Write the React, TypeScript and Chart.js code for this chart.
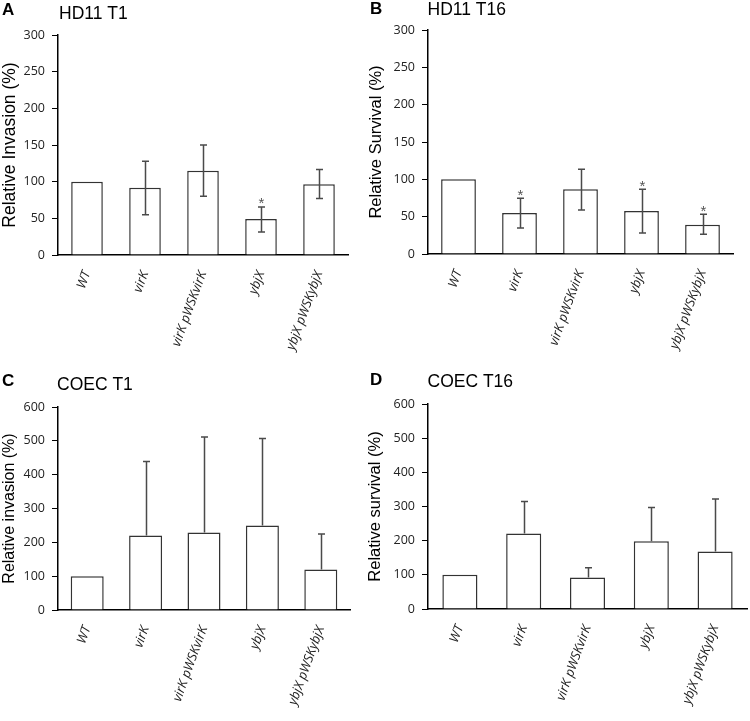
import React, { useEffect, useRef } from "react";
import { Chart, registerables } from "chart.js";

Chart.register(...registerables);

const CATEGORIES = ["WT", "virK", "virK pWSKvirK", "ybjX", "ybjX pWSKybjX"];

// Panel A: HD11 T1
const A_VALUES = [100, 91.7, 115, 49, 96.5];
const A_LOW = [null, 55, 80, 31.5, 77];
const A_HIGH = [null, 128, 150, 65.5, 116.5];
const A_STARS = [false, false, false, true, false];

// Panel B: HD11 T16
const B_VALUES = [100, 55, 86.6, 57.6, 39.3];
const B_LOW = [null, 34.8, 58.9, 28.1, 26.3];
const B_HIGH = [null, 74.6, 113.4, 86.6, 53.1];
const B_STARS = [false, true, false, true, true];

// Panel C: COEC T1
const C_VALUES = [100, 220, 229, 250, 120];
const C_LOW = [null, null, null, null, null];
const C_HIGH = [null, 439, 511, 507, 225];
const C_STARS = [false, false, false, false, false];

// Panel D: COEC T16
const D_VALUES = [100, 221, 92, 198, 168];
const D_LOW = [null, null, null, null, null];
const D_HIGH = [null, 315, 121, 297, 322];
const D_STARS = [false, false, false, false, false];

const Y_TICKS_AB = { max: 300, step: 50 };
const Y_TICKS_CD = { max: 600, step: 100 };

type PanelProps = {
  letter: string;
  title: string;
  yTitle: string;
  values: number[];
  low: (number | null)[];
  high: (number | null)[];
  stars: boolean[];
  max: number;
  step: number;
  x: number;
  y: number;
  w: number;
  h: number;
  area: { left: number; right: number; top: number; bottom: number };
  barPct: number;
  yTitleSize: number;
  yTitlePad: number;
  letterPos: [number, number];
  titlePos: [number, number];
};

function Panel(p: PanelProps) {
  const ref = useRef<HTMLCanvasElement | null>(null);
  useEffect(() => {
    const canvas = ref.current;
    if (!canvas) return;
    const overlay = {
      id: "overlay" + p.letter,
      afterDatasetsDraw(chart: any) {
        const ctx = chart.ctx;
        const meta = chart.getDatasetMeta(0);
        const ys = chart.scales.y;
        ctx.save();
        for (let i = 0; i < p.values.length; i++) {
          const hi = p.high[i];
          if (hi == null) continue;
          const bar = meta.data[i];
          const cx = Math.round(bar.x) + 0.5;
          const lo = p.low[i];
          const yHi = ys.getPixelForValue(hi);
          const yLo = ys.getPixelForValue(lo == null ? p.values[i] : lo);
          ctx.strokeStyle = "#4a4a4a";
          ctx.lineWidth = 1.5;
          ctx.beginPath();
          ctx.moveTo(cx, yLo);
          ctx.lineTo(cx, yHi);
          ctx.moveTo(cx - 3.5, yHi);
          ctx.lineTo(cx + 3.5, yHi);
          if (lo != null) {
            ctx.moveTo(cx - 3.5, yLo);
            ctx.lineTo(cx + 3.5, yLo);
          }
          ctx.stroke();
          if (p.stars[i]) {
            ctx.fillStyle = "#555";
            ctx.font = "15px 'Liberation Sans', Arial, sans-serif";
            ctx.textAlign = "center";
            ctx.textBaseline = "alphabetic";
            ctx.fillText("*", cx, yHi + 1.5);
          }
        }
        ctx.fillStyle = "#000";
        ctx.textAlign = "left";
        ctx.textBaseline = "alphabetic";
        ctx.font = "bold 17px 'Liberation Sans', Arial, sans-serif";
        ctx.fillText(p.letter, p.letterPos[0], p.letterPos[1]);
        ctx.font = "17.5px 'Liberation Sans', Arial, sans-serif";
        ctx.fillText(p.title, p.titlePos[0], p.titlePos[1]);
        ctx.restore();
      },
    };
    const chart = new Chart(canvas, {
      type: "bar",
      data: {
        labels: CATEGORIES,
        datasets: [
          {
            data: p.values,
            backgroundColor: "#ffffff",
            borderColor: "#333333",
            borderWidth: 1.5,
            barPercentage: p.barPct,
            categoryPercentage: 1,
          },
        ],
      },
      options: {
        animation: false,
        responsive: false,
        devicePixelRatio: 1,
        layout: {
          padding: {
            top: p.area.top,
            right: p.w - p.area.right,
            bottom: 0,
            left: 0,
          },
        },
        plugins: {
          legend: { display: false },
          tooltip: { enabled: false },
        },
        scales: {
          x: {
            grid: { display: false },
            border: { display: true, color: "#000", width: 1.5 },
            ticks: {
              autoSkip: false,
              minRotation: 70,
              maxRotation: 70,
              padding: 6,
              color: "#222",
              font: { family: "'Open Sans', sans-serif", size: 13, style: "italic" },
            },
            afterFit: (s: any) => {
              s.height = p.h - p.area.bottom;
            },
          },
          y: {
            min: 0,
            max: p.max,
            ticks: {
              stepSize: p.step,
              padding: 7,
              color: "#222",
              font: { family: "'Open Sans', sans-serif", size: 12.5 },
            },
            grid: {
              display: true,
              drawOnChartArea: false,
              drawTicks: true,
              tickLength: 6,
              color: "#000",
              lineWidth: 1,
            },
            border: { display: true, color: "#000", width: 1.5 },
            title: {
              display: true,
              text: p.yTitle,
              color: "#000",
              font: { family: "'Liberation Sans', Arial, sans-serif", size: p.yTitleSize },
              padding: { top: p.yTitlePad, bottom: 0 },
            },
            afterFit: (s: any) => {
              s.width = p.area.left;
            },
          },
        },
      },
      plugins: [overlay],
    } as any);
    return () => chart.destroy();
  }, []);
  return (
    <canvas
      ref={ref}
      width={p.w}
      height={p.h}
      style={{ position: "absolute", left: p.x, top: p.y, width: p.w, height: p.h }}
    />
  );
}

export default function App() {
  useEffect(() => {
    document.body.style.margin = "0";
    document.body.style.background = "#fff";
  }, []);
  return (
    <div style={{ position: "absolute", left: 0, top: 0, width: 750, height: 721, background: "#fff" }}>
      <Panel
        letter="A"
        title="HD11 T1"
        yTitle="Relative Invasion (%)"
        values={A_VALUES}
        low={A_LOW}
        high={A_HIGH}
        stars={A_STARS}
        max={Y_TICKS_AB.max}
        step={Y_TICKS_AB.step}
        x={0}
        y={0}
        w={360}
        h={360}
        area={{ left: 58, right: 348, top: 35, bottom: 255 }}
        barPct={0.545}
        yTitleSize={17.5}
        yTitlePad={0}
        letterPos={[2, 15]}
        titlePos={[59, 18.5]}
      />
      <Panel
        letter="B"
        title="HD11 T16"
        yTitle="Relative Survival (%)"
        values={B_VALUES}
        low={B_LOW}
        high={B_HIGH}
        stars={B_STARS}
        max={Y_TICKS_AB.max}
        step={Y_TICKS_AB.step}
        x={360}
        y={0}
        w={390}
        h={360}
        area={{ left: 68, right: 373, top: 30, bottom: 254 }}
        barPct={0.57}
        yTitleSize={16.5}
        yTitlePad={6.5}
        letterPos={[10, 13.5]}
        titlePos={[67.5, 15]}
      />
      <Panel
        letter="C"
        title="COEC T1"
        yTitle="Relative invasion (%)"
        values={C_VALUES}
        low={C_LOW}
        high={C_HIGH}
        stars={C_STARS}
        max={Y_TICKS_CD.max}
        step={Y_TICKS_CD.step}
        x={0}
        y={360}
        w={360}
        h={361}
        area={{ left: 58, right: 350, top: 47, bottom: 250 }}
        barPct={0.565}
        yTitleSize={16}
        yTitlePad={0}
        letterPos={[2, 26]}
        titlePos={[57, 29.5]}
      />
      <Panel
        letter="D"
        title="COEC T16"
        yTitle="Relative survival (%)"
        values={D_VALUES}
        low={D_LOW}
        high={D_HIGH}
        stars={D_STARS}
        max={Y_TICKS_CD.max}
        step={Y_TICKS_CD.step}
        x={360}
        y={360}
        w={390}
        h={361}
        area={{ left: 68, right: 387, top: 44, bottom: 249 }}
        barPct={0.55}
        yTitleSize={16.5}
        yTitlePad={6}
        letterPos={[10, 25]}
        titlePos={[67.5, 27]}
      />
    </div>
  );
}
